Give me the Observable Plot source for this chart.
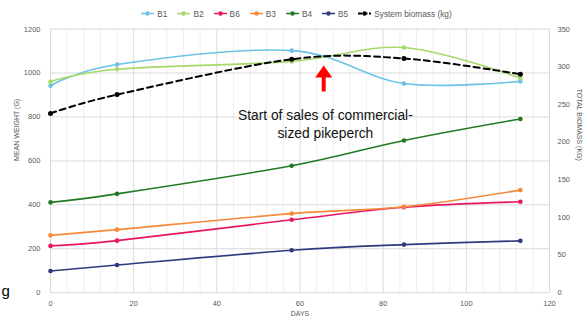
<!DOCTYPE html>
<html>
<head>
<meta charset="utf-8">
<script src="https://cdn.jsdelivr.net/npm/d3@7"></script>
<script src="https://cdn.jsdelivr.net/npm/@observablehq/plot@0.6"></script>
<style>
  body { margin: 0; background: #fff; font-family: "Liberation Sans", Arial, sans-serif; }
  #wrap { width: 583px; height: 318px; overflow: hidden; }
  #legend { height: 24px; display: flex; justify-content: center; align-items: center; gap: 10px;
            font-size: 8.3px; color: #595959; padding-top: 3px; box-sizing: border-box; padding-left: 10px; }
  .item { display: flex; align-items: center; gap: 3px; }
  svg { display: block; overflow: visible; }
</style>
</head>
<body>
<div id="wrap">
  <div id="legend"></div>
  <div id="chart"></div>
</div>
<script>
// ---- data ----
const days = [0, 16, 58, 85, 113];
const seriesNames = ["B1", "B2", "B6", "B3", "B4", "B5"];
const seriesColors = ["#6CC3E6", "#A6D96A", "#E8175D", "#F5893A", "#207A24", "#2F3A7E"];
const B1 = [942, 1039, 1102, 952, 962];
const B2 = [960, 1017, 1053, 1116, 977];
const B6 = [213, 237, 332, 389, 414];
const B3 = [261, 287, 360, 391, 467];
const B4 = [411, 450, 578, 693, 791];
const B5 = [99, 126, 193, 219, 236];
const biomass = [238, 263, 310, 311, 290];
const biomassLabel = "System biomass (kg)";
const xTicks = [0, 20, 40, 60, 80, 100, 120];
const yTicksLeft = [0, 200, 400, 600, 800, 1000, 1200];
const yTicksRight = [0, 50, 100, 150, 200, 250, 300, 350];
const annotationText = ["Start of sales of commercial-\nsized pikeperch"];
const annotationX = [66.1];
const annotationY = [771];
const arrowX = [65.7];
const arrowBaseY = [916];

// ---- build ----
const k = 1200 / 350;
const values = {B1, B2, B6, B3, B4, B5};
const rows = seriesNames.flatMap(name => days.map((d, i) => ({series: name, day: d, value: values[name][i]})));
const bioRows = days.map((d, i) => ({day: d, value: biomass[i] * k}));
const curve = d3.curveCatmullRom.alpha(0);

// legend
const legend = document.getElementById("legend");
const legendItems = seriesNames.map((n, i) => [n, seriesColors[i], false]).concat([[biomassLabel, "#000", true]]);
for (const [name, color, dashed] of legendItems) {
  const item = document.createElement("div");
  item.className = "item";
  item.innerHTML = `<svg width="13" height="7"><line x1="0" x2="13" y1="3.5" y2="3.5" stroke="${color}" stroke-width="${dashed ? 1.8 : 1.5}" ${dashed ? 'stroke-dasharray="4,1.5"' : ''}/><circle cx="6.5" cy="3.5" r="2.2" fill="${color}"/></svg><span>${name}</span>`;
  legend.appendChild(item);
}

const arrowShape = {
  draw(context, l) {
    const hw = 2, headW = 8.5, headH = 12;
    context.moveTo(-hw, 0);
    context.lineTo(-hw, -l + headH);
    context.lineTo(-headW, -l + headH);
    context.lineTo(0, -l);
    context.lineTo(headW, -l + headH);
    context.lineTo(hw, -l + headH);
    context.lineTo(hw, 0);
    context.closePath();
  }
};

const chart = Plot.plot({
  width: 583,
  height: 294,
  marginTop: 4.6,
  marginBottom: 25.8,
  marginLeft: 50,
  marginRight: 34,
  style: {fontFamily: "Liberation Sans, Arial, sans-serif", background: "#fff"},
  x: {domain: [0, 120]},
  y: {domain: [0, 1200]},
  color: {domain: seriesNames, range: seriesColors},
  marks: [
    Plot.gridX(d3.range(0, 121, 4).filter(d => d % 20 !== 0), {stroke: "#EFEFEF", strokeOpacity: 1}),
    Plot.gridX(xTicks, {stroke: "#D9D9D9", strokeOpacity: 1}),
    Plot.gridY(yTicksLeft, {stroke: "#D9D9D9", strokeOpacity: 1}),
    Plot.axisX(xTicks, {tickSize: 0, tickPadding: 8, fontSize: 7.5, color: "#595959", label: null, tickFormat: d => String(d)}),
    Plot.axisY(yTicksLeft, {anchor: "left", tickSize: 0, tickPadding: 10, fontSize: 7.5, color: "#595959", label: null, tickFormat: d => String(d)}),
    Plot.axisY(yTicksRight.map(v => v * k), {anchor: "right", tickSize: 0, tickPadding: 8, fontSize: 7.5, color: "#595959", label: null, tickFormat: d => String(Math.round(d / k))}),
    Plot.text(["MEAN WEIGHT (G)"], {frameAnchor: "left", dx: -34, rotate: -90, fontSize: 7, fill: "#595959"}),
    Plot.text(["TOTAL BIOMASS (KG)"], {frameAnchor: "right", dx: 30, rotate: 90, fontSize: 7, fill: "#595959"}),
    Plot.text(["DAYS"], {frameAnchor: "bottom", dy: 21, fontSize: 7, fill: "#595959", lineAnchor: "middle"}),
    Plot.text(["g"], {frameAnchor: "bottom-left", dx: -49, dy: 3, textAnchor: "start", lineAnchor: "bottom", fontSize: 15, fill: "#000"}),
    Plot.line(rows, {x: "day", y: "value", z: "series", stroke: "series", strokeWidth: 1.6, curve}),
    Plot.dot(rows, {x: "day", y: "value", fill: "series", r: 2.3}),
    Plot.line(bioRows, {x: "day", y: "value", stroke: "#000", strokeWidth: 2, strokeDasharray: "6,4", curve}),
    Plot.dot(bioRows, {x: "day", y: "value", fill: "#000", r: 2.5}),
    Plot.vector(arrowX.map((x, i) => ({x, y: arrowBaseY[i]})), {x: "x", y: "y", length: 26, anchor: "start", shape: arrowShape, fill: "#FF0000", stroke: "none"}),
    Plot.text(annotationText.map((t, i) => ({t, x: annotationX[i], y: annotationY[i]})), {x: "x", y: "y", text: "t", fontSize: 13.8, lineHeight: 1.26, fill: "#111", fontFamily: "Liberation Sans, Arial, sans-serif"})
  ]
});
document.getElementById("chart").appendChild(chart);
</script>
</body>
</html>
